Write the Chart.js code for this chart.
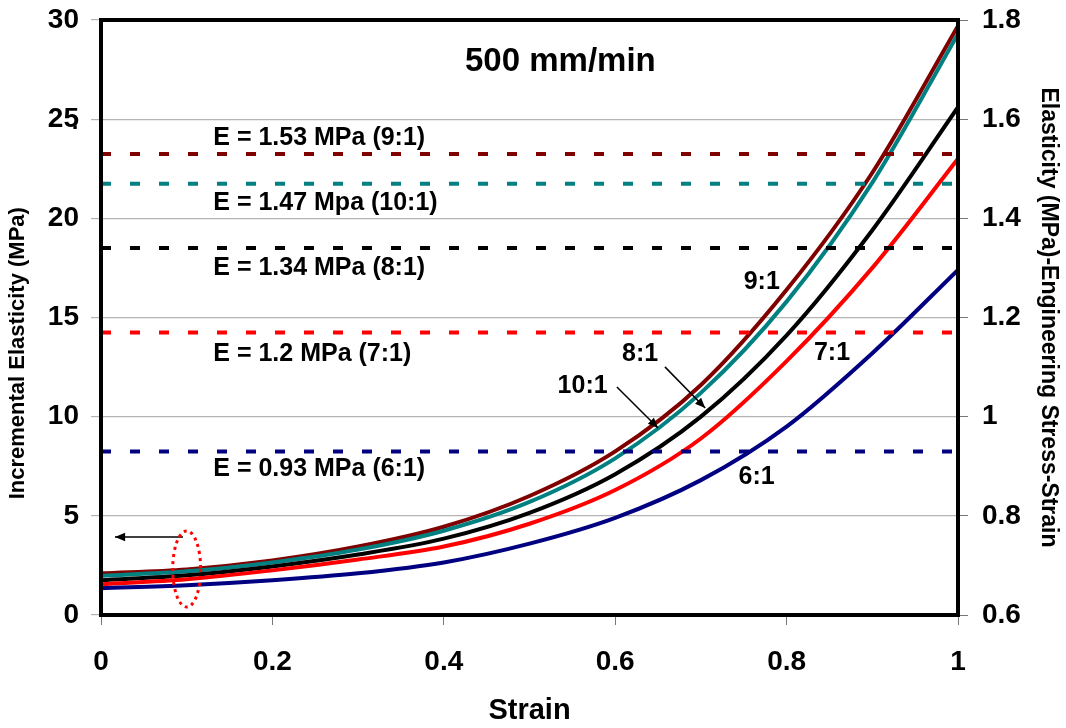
<!DOCTYPE html>
<html>
<head>
<meta charset="utf-8">
<script src="https://cdn.jsdelivr.net/npm/chart.js@4"></script>
<style>
  html, body { margin: 0; padding: 0; background: #fff; }
  #wrap { width: 1066px; height: 728px; }
</style>
</head>
<body>
<div id="wrap"><canvas id="chart" width="1066" height="728"></canvas></div>
<script>
// strain values (x)
const strain = [0, 0.1, 0.2, 0.3, 0.4, 0.5, 0.6, 0.7, 0.8, 0.9, 1.0];

// incremental elasticity curves (MPa), left axis
const ratio6  = [1.35, 1.50, 1.75, 2.10, 2.65, 3.60, 4.90, 6.80, 9.50, 13.2, 17.4];
const ratio7  = [1.55, 1.80, 2.25, 2.80, 3.45, 4.60, 6.30, 8.90, 12.8, 17.5, 23.0];
const ratio8  = [1.75, 2.00, 2.45, 3.05, 3.85, 5.15, 7.10, 10.0, 14.1, 19.4, 25.6];
const ratio9  = [2.10, 2.30, 2.75, 3.45, 4.45, 6.00, 8.25, 11.6, 16.4, 22.3, 29.7];
const ratio10 = [1.97, 2.20, 2.65, 3.30, 4.25, 5.70, 7.90, 11.2, 15.8, 21.8, 29.3];

// engineering stress-strain elasticity (MPa), right axis
const eLabels = ["9:1", "10:1", "8:1", "7:1", "6:1"];
const eValues = [1.53, 1.47, 1.34, 1.17, 0.93];
const eTexts  = ["E = 1.53 MPa (9:1)", "E = 1.47 Mpa (10:1)", "E = 1.34 MPa (8:1)",
                 "E = 1.2 MPa (7:1)", "E = 0.93 MPa (6:1)"];

const leftTicks  = [0, 5, 10, 15, 20, 25, 30];
const rightTicks = [0.6, 0.8, 1.0, 1.2, 1.4, 1.6, 1.8];
const xTicks     = [0, 0.2, 0.4, 0.6, 0.8, 1.0];

const colors = { "6:1": "#000080", "7:1": "#FF0000", "8:1": "#000000", "9:1": "#800000", "10:1": "#008080" };
const FONT = "Arial, 'Liberation Sans', sans-serif";

function pts(ys) { return strain.map((x, i) => ({ x: x, y: ys[i] })); }

const curves = [
  { label: "6:1", data: ratio6 },
  { label: "7:1", data: ratio7 },
  { label: "8:1", data: ratio8 },
  { label: "10:1", data: ratio10 },
  { label: "9:1", data: ratio9 }
];

const datasets = [];
eLabels.forEach((lab, i) => {
  datasets.push({
    label: "E " + lab,
    data: [{ x: 0, y: eValues[i] }, { x: 1, y: eValues[i] }],
    yAxisID: "y2",
    borderColor: colors[lab],
    borderWidth: 4,
    borderDash: [10, 19],
    borderCapStyle: "butt",
    pointRadius: 0,
    fill: false
  });
});
curves.forEach(c => {
  datasets.push({
    label: c.label,
    data: pts(c.data),
    yAxisID: "y",
    borderColor: colors[c.label],
    borderWidth: 4,
    pointRadius: 0,
    cubicInterpolationMode: "monotone",
    fill: false
  });
});

// text / arrows placed in data units (x: strain, y: left axis)
const notes = [
  { t: "500 mm/min", x: 0.536, y: 27.9, size: 33, align: "center" },
  { t: eTexts[0], x: 0.131, y: 24.05, size: 25, align: "left" },
  { t: eTexts[1], x: 0.131, y: 20.78, size: 25, align: "left" },
  { t: eTexts[2], x: 0.131, y: 17.5, size: 25, align: "left" },
  { t: eTexts[3], x: 0.131, y: 13.16, size: 25, align: "left" },
  { t: eTexts[4], x: 0.131, y: 7.36, size: 25, align: "left" },
  { t: "9:1", x: 0.771, y: 16.79, size: 25, align: "center" },
  { t: "8:1", x: 0.629, y: 13.16, size: 25, align: "center" },
  { t: "10:1", x: 0.562, y: 11.55, size: 25, align: "center" },
  { t: "7:1", x: 0.853, y: 13.2, size: 25, align: "center" },
  { t: "6:1", x: 0.765, y: 6.96, size: 25, align: "center" }
];
const arrows = [
  { x1: 0.658, y1: 12.51, x2: 0.705, y2: 10.44 },
  { x1: 0.602, y1: 11.5, x2: 0.650, y2: 9.43 },
  { x1: 0.0957, y1: 3.93, x2: 0.0163, y2: 3.93 }
];

const decor = {
  id: "decor",
  afterDatasetsDraw(chart) {
    const ctx = chart.ctx, xs = chart.scales.x, ys = chart.scales.y, a = chart.chartArea;
    ctx.save();
    // plot frame
    ctx.strokeStyle = "#000";
    ctx.lineWidth = 4;
    ctx.strokeRect(a.left, a.top, a.right - a.left, a.bottom - a.top);

    ctx.fillStyle = "#000";
    ctx.textBaseline = "middle";
    notes.forEach(n => {
      ctx.font = "bold " + n.size + "px " + FONT;
      ctx.textAlign = n.align;
      ctx.fillText(n.t, xs.getPixelForValue(n.x), ys.getPixelForValue(n.y));
    });

    ctx.lineWidth = 1.5;
    arrows.forEach(r => {
      const x1 = xs.getPixelForValue(r.x1), y1 = ys.getPixelForValue(r.y1);
      const x2 = xs.getPixelForValue(r.x2), y2 = ys.getPixelForValue(r.y2);
      const ang = Math.atan2(y2 - y1, x2 - x1);
      ctx.beginPath(); ctx.moveTo(x1, y1); ctx.lineTo(x2, y2); ctx.stroke();
      ctx.beginPath();
      ctx.moveTo(x2, y2);
      ctx.lineTo(x2 - 11 * Math.cos(ang - 0.4), y2 - 11 * Math.sin(ang - 0.4));
      ctx.lineTo(x2 - 11 * Math.cos(ang + 0.4), y2 - 11 * Math.sin(ang + 0.4));
      ctx.closePath(); ctx.fill();
    });

    // red dotted ellipse around the curve start
    const cx = xs.getPixelForValue(0.100), cy = ys.getPixelForValue(2.32);
    const rx = xs.getPixelForValue(0.1163) - cx, ry = cy - ys.getPixelForValue(4.24);
    ctx.strokeStyle = "#FF0000";
    ctx.lineWidth = 3;
    ctx.setLineDash([3, 4]);
    ctx.beginPath(); ctx.ellipse(cx, cy, rx, ry, 0, 0, 2 * Math.PI); ctx.stroke();
    ctx.setLineDash([]);

    // stray dot beside left axis
    ctx.font = "bold 24px " + FONT;
    ctx.textAlign = "center";
    ctx.fillText(".", a.left - 26, ys.getPixelForValue(24.85));

    // left axis title (sits a little below centre in the original)
    ctx.font = "bold 22px " + FONT;
    ctx.translate(18, ys.getPixelForValue(13.2));
    ctx.rotate(-Math.PI / 2);
    ctx.fillText("Incremental Elasticity (MPa)", 0, 0);
    ctx.restore();
  }
};

const tickFont = { family: FONT, size: 28, weight: "bold" };
const noPad = s => { s.paddingTop = 0; s.paddingBottom = 0; };

new Chart(document.getElementById("chart"), {
  type: "line",
  data: { datasets: datasets },
  options: {
    responsive: false,
    animation: false,
    layout: { padding: { top: 20, left: 0, right: 0, bottom: 0 } },
    plugins: { legend: { display: false }, tooltip: { enabled: false } },
    scales: {
      x: {
        type: "linear", min: 0, max: 1,
        afterBuildTicks: s => { s.ticks = xTicks.map(v => ({ value: v })); },
        afterFit: s => { s.height = 113; },
        ticks: { font: tickFont, color: "#000", padding: 20, maxRotation: 0,
                 callback: v => String(Math.round(v * 10) / 10) },
        grid: { drawOnChartArea: false, color: "#777", tickLength: 10 },
        border: { display: false },
        title: { display: true, text: "Strain", color: "#000",
                 font: { family: FONT, size: 29, weight: "bold" }, padding: { top: 0, bottom: 0 } }
      },
      y: {
        type: "linear", position: "left", min: 0, max: 30,
        afterBuildTicks: s => { s.ticks = leftTicks.map(v => ({ value: v })); },
        afterFit: s => { s.width = 101; noPad(s); },
        ticks: { font: tickFont, color: "#000", padding: 12 },
        grid: { color: "#b4b4b4", lineWidth: 1.2, tickLength: 10 },
        border: { display: false }
      },
      y2: {
        type: "linear", position: "right", min: 0.6, max: 1.8,
        afterBuildTicks: s => { s.ticks = rightTicks.map(v => ({ value: v })); },
        afterFit: s => { s.width = 108; noPad(s); },
        ticks: { font: tickFont, color: "#000", padding: 14,
                 callback: v => String(Math.round(v * 10) / 10) },
        grid: { drawOnChartArea: false, color: "#777", tickLength: 10 },
        border: { display: false },
        title: { display: true, text: "Elasticity (MPa)-Engineering Stress-Strain", color: "#000",
                 font: { family: FONT, size: 23, weight: "bold" }, padding: { top: 4, bottom: 0 } }
      }
    }
  },
  plugins: [decor]
});
</script>
</body>
</html>
